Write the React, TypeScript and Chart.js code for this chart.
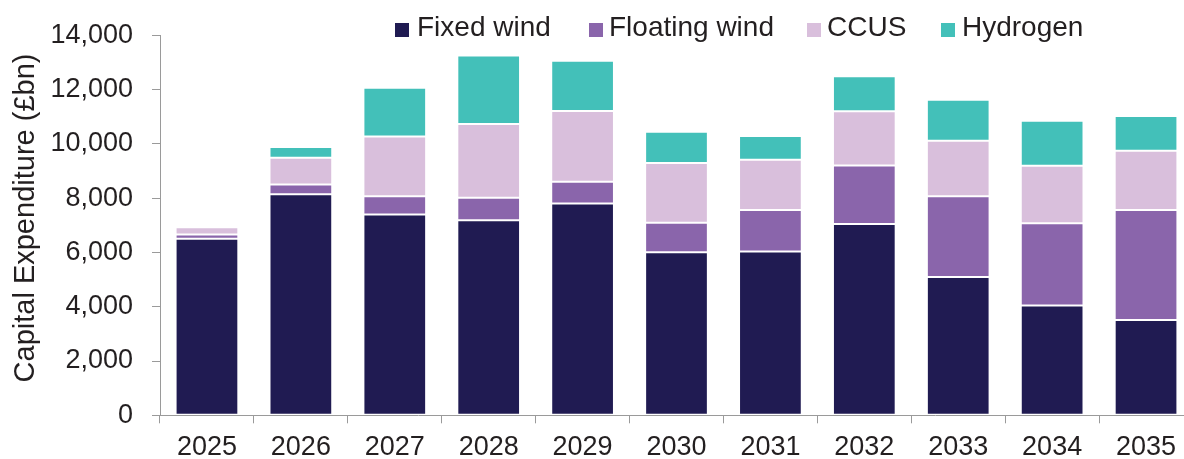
import React, { useEffect, useRef } from "react";
import { Chart, registerables } from "chart.js";

Chart.register(...registerables);

const years = ["2025", "2026", "2027", "2028", "2029", "2030", "2031", "2032", "2033", "2034", "2035"];
const fixedWind = [6500, 8140, 7400, 7180, 7800, 6010, 6030, 7050, 5090, 4040, 3510];
const floatingWind = [160, 365, 665, 830, 805, 1080, 1530, 2150, 2975, 3035, 4055];
const ccus = [265, 980, 2200, 2720, 2605, 2200, 1850, 2000, 2045, 2120, 2180];
const hydrogen = [26, 395, 1800, 2520, 1850, 1150, 880, 1285, 1515, 1650, 1275];
const yTicks = [0, 2000, 4000, 6000, 8000, 10000, 12000, 14000];
const seriesNames = ["Fixed wind", "Floating wind", "CCUS", "Hydrogen"];
const colors = ["#201b52", "#8a65ab", "#d9bfdc", "#43c0b9"];

const FONT = "'Liberation Sans', Arial, sans-serif";
const TEXT = "#231f20";
const AXIS = "#9a9a9a";

export default function App() {
  const ref = useRef<HTMLCanvasElement>(null);

  useEffect(() => {
    if (!ref.current) return;
    const yTitlePlugin = {
      id: "yTitle",
      afterDraw(chart: any) {
        const ctx = chart.ctx;
        ctx.save();
        ctx.translate(33.5, 218);
        ctx.rotate(-Math.PI / 2);
        ctx.font = `29px ${FONT}`;
        ctx.fillStyle = TEXT;
        ctx.textAlign = "center";
        ctx.textBaseline = "alphabetic";
        ctx.fillText("Capital Expenditure (£bn)", 0, 0);
        ctx.restore();
      },
    };
    const data = [fixedWind, floatingWind, ccus, hydrogen];
    const chart = new Chart(ref.current, {
      type: "bar",
      data: {
        labels: years,
        datasets: seriesNames.map((name, i) => ({
          label: name,
          data: data[i],
          backgroundColor: colors[i],
          borderColor: "rgba(255,255,255,0.28)",
          borderWidth: 1,
          borderSkipped: false,
          categoryPercentage: 1,
          barPercentage: 0.668,
        })),
      },
      options: {
        animation: false,
        responsive: false,
        devicePixelRatio: 1,
        layout: { padding: { top: 34, right: 7, left: 0, bottom: 0 } },
        plugins: { legend: { display: false }, tooltip: { enabled: false } },
        scales: {
          x: {
            stacked: true,
            grid: { display: true, drawOnChartArea: false, drawTicks: true, tickLength: 8, color: AXIS, offset: true },
            border: { display: true, color: AXIS, width: 1 },
            ticks: { color: TEXT, font: { family: FONT, size: 27 }, padding: 8, maxRotation: 0, autoSkip: false },
            afterFit(scale: any) {
              scale.height = 43.7;
            },
          },
          y: {
            stacked: true,
            min: 0,
            max: 14000,
            afterBuildTicks(scale: any) {
              scale.ticks = yTicks.map((v) => ({ value: v }));
            },
            grid: { display: true, drawOnChartArea: false, drawTicks: true, tickLength: 8, color: AXIS },
            border: { display: true, color: AXIS, width: 1 },
            ticks: {
              color: TEXT,
              font: { family: FONT, size: 27 },
              padding: 19,
              callback: (v: any) => Number(v).toLocaleString("en-US"),
            },
            afterFit(scale: any) {
              scale.width = 160;
            },
          },
        },
      },
      plugins: [yTitlePlugin],
    });
    return () => chart.destroy();
  }, []);

  const legendPos = [
    { sq: 395, tx: 417 },
    { sq: 589, tx: 609 },
    { sq: 807, tx: 827 },
    { sq: 941, tx: 962 },
  ];

  return (
    <div style={{ position: "fixed", left: 0, top: 0, width: 1184, height: 459, overflow: "hidden", background: "#fff" }}>
      <canvas ref={ref} width={1200} height={459} style={{ position: "absolute", left: 0, top: 0, width: 1200, height: 459 }} />
      {seriesNames.map((name, i) => (
        <React.Fragment key={name}>
          <div
            style={{
              position: "absolute",
              left: legendPos[i].sq,
              top: 23,
              width: 14,
              height: 14,
              background: colors[i],
            }}
          />
          <div
            style={{
              position: "absolute",
              left: legendPos[i].tx,
              top: 11,
              fontFamily: FONT,
              fontSize: 28,
              lineHeight: "32px",
              color: TEXT,
              whiteSpace: "nowrap",
            }}
          >
            {name}
          </div>
        </React.Fragment>
      ))}
    </div>
  );
}
